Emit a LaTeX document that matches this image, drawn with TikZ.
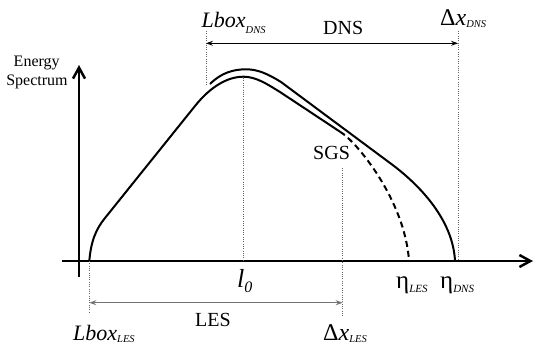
\documentclass[tikz,border=0pt]{standalone}
\usepackage{fontspec}
\setmainfont{Liberation Serif}
\usepackage{xcolor}
\usetikzlibrary{arrows.meta, positioning}

\newcommand{\bigit}{\fontsize{22}{24}\selectfont\itshape}
\newcommand{\subit}[1]{{\fontsize{10.5}{11}\selectfont\itshape #1}}

\begin{document}
\begin{tikzpicture}[x=1pt, y=-1pt, every node/.style={inner sep=0pt, anchor=base west, font=\fontsize{20}{24}\selectfont}]
  \tikzset{axis/.style={line width=2.5pt, -{Straight Barb[length=11pt, width=12pt]}}}
  \tikzset{spectrum/.style={line width=2pt}}
  \tikzset{guide/.style={line width=0.9pt, black!60, dash pattern=on 1pt off 1.3pt}}
  \tikzset{span/.style={line width=0.9pt, {Stealth[length=7pt, width=5pt, inset=2.5pt]}-{Stealth[length=7pt, width=5pt, inset=2.5pt]}}}
  \useasboundingbox (0,0) rectangle (534,349);

  \coordinate (xstart) at (62,261);
  \coordinate (xend) at (533,261);
  \coordinate (ystart) at (79,277);
  \coordinate (yend) at (79,65);
  \draw[axis] (xstart) -- (xend);
  \draw[axis] (ystart) -- (yend);

  \coordinate (lboxles) at (89.3,261);
  \coordinate (lzero) at (243.5,261);
  \coordinate (etales) at (409,261);
  \coordinate (etadns) at (455,261);
  \coordinate (sgs) at (340,131.7);
  \coordinate (dnsstart) at (210,84);

  % spectra
  \draw[spectrum] (lboxles) .. controls (91,241) and (96,229) .. (105,218) -- (195,106)
    .. controls (211,86) and (228,76.7) .. (243.5,76.7)
    .. controls (256,76.7) and (267,84) .. (280,92) -- (sgs);
  \draw[spectrum, dash pattern=on 6pt off 4pt] (sgs) .. controls (356,141) and (405,200) .. (etales);
  \draw[spectrum] (dnsstart) .. controls (221,73) and (233,69.3) .. (246,69.3)
    .. controls (258,69.3) and (268,74) .. (281,82) -- (390,163)
    .. controls (420,185) and (453,220) .. (etadns);

  % guides
  \coordinate (lboxdnstop) at (206,31);
  \coordinate (lboxdnsbot) at (206,85);
  \coordinate (dxdnstop) at (458,31);
  \coordinate (dxdnsbot) at (458,259);
  \coordinate (lzerotop) at (243.5,78);
  \coordinate (dxlestop) at (342.7,168);
  \coordinate (dxlesbot) at (342.7,316);
  \coordinate (lboxlesbot) at (89.3,313);
  \draw[guide] (lboxdnstop) -- (lboxdnsbot);
  \draw[guide] (dxdnstop) -- (dxdnsbot);
  \draw[guide] (lzerotop) -- (lzero);
  \draw[guide] (dxlestop) -- (dxlesbot);
  \draw[guide] (lboxles) -- (lboxlesbot);

  \coordinate (dnsleft) at (206,43.3);
  \coordinate (dnsright) at (458,43.3);
  \coordinate (lesleft) at (89.3,302.7);
  \coordinate (lesright) at (342.7,302.7);
  \draw[span] (dnsleft) -- (dnsright);
  \draw[span, black!55, line width=1.3pt] (lesleft) -- (lesright);

  % labels
  \node (lboxdnslbl) at (201.5,27.3) {\bigit Lbox\raisebox{-6pt}{\subit{DNS}}};
  \node (dnslbl) at (323,34) {DNS};
  \node (dxdnslbl) at (440,25) {\fontsize{24}{26}\selectfont Δ\itshape x\raisebox{-2pt}{\subit{DNS}}};
  \node[anchor=base, font=\fontsize{16}{18}\selectfont] (energylbl) at (36.7,66.7) {Energy};
  \node[anchor=base, font=\fontsize{16}{18}\selectfont] (spectrumlbl) at (37,85) {Spectrum};
  \node (sgslbl) at (313,159.3) {SGS};
  \node (lzerolbl) at (237,287) {\fontsize{26}{28}\selectfont\itshape l\raisebox{-5pt}{\fontsize{16}{18}\selectfont 0}};
  \node (etaleslbl) at (396,288) {\fontsize{25}{26}\selectfont η\raisebox{-4.5pt}{\fontsize{11}{12}\selectfont\itshape LES}};
  \node (etadnslbl) at (440,288) {\fontsize{25}{26}\selectfont η\raisebox{-4.5pt}{\fontsize{11}{12}\selectfont\itshape DNS}};
  \node (leslbl) at (195,326.7) {LES};
  \node (lboxleslbl) at (73,340) {\bigit Lbox\raisebox{-2pt}{\subit{LES}}};
  \node (dxleslbl) at (323,340) {\fontsize{24}{26}\selectfont Δ\itshape x\raisebox{-2pt}{\subit{LES}}};
\end{tikzpicture}
\end{document}
